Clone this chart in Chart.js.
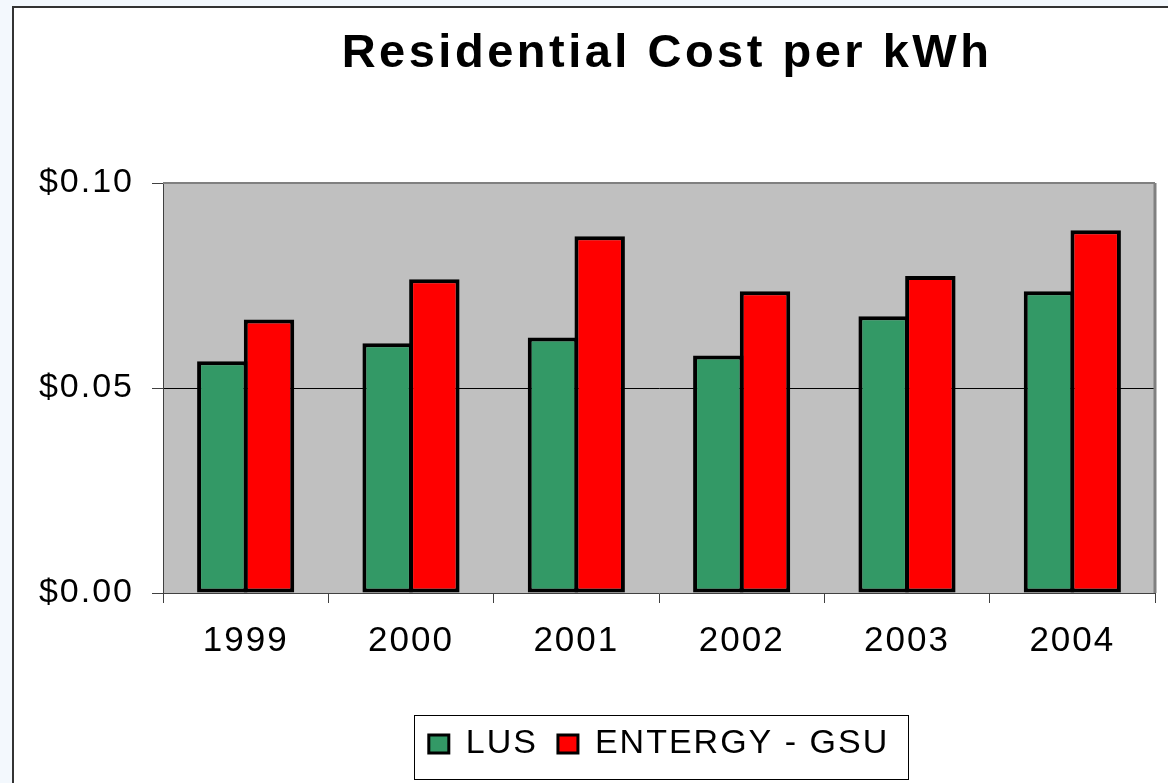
<!DOCTYPE html>
<html>
<head>
<meta charset="utf-8">
<script src="https://cdn.jsdelivr.net/npm/chart.js@4.4.1/dist/chart.umd.min.js"></script>
<style>
  html, body { margin: 0; padding: 0; background: #f3f8fd; overflow: hidden; }
  #wrap { position: absolute; left: 0; top: 0; width: 1168px; height: 783px; overflow: hidden; }
</style>
</head>
<body>
<div id="wrap"><canvas id="chart" width="1330" height="783"></canvas></div>
<script>
const years = ["1999", "2000", "2001", "2002", "2003", "2004"];
const lusCost = [0.0565, 0.0609, 0.0623, 0.0579, 0.0675, 0.0736];
const entergyCost = [0.0667, 0.0765, 0.0870, 0.0736, 0.0773, 0.0885];
const seriesNames = ["LUS", "ENTERGY - GSU"];
const yTicks = [0, 0.05, 0.10];
const titleText = "Residential Cost per kWh";

const FONT = "'Liberation Sans', Arial, sans-serif";
const SPACING = "2px";

// the original chart is drawn with a slightly stretched font, so widen text a bit
function setSpacing(chart) {
  chart.ctx.letterSpacing = SPACING;
}

// page frame, grey plot area, title and legend box
const framePlugin = {
  id: "frame",
  beforeLayout(chart) { setSpacing(chart); },
  beforeDraw(chart) {
    setSpacing(chart);
    const ctx = chart.ctx;
    const a = chart.chartArea;
    ctx.save();
    ctx.fillStyle = "#f3f8fd";
    ctx.fillRect(0, 0, chart.width, chart.height);
    ctx.fillStyle = "#ffffff";
    ctx.fillRect(12, 6, chart.width, chart.height);
    ctx.strokeStyle = "#333333";
    ctx.lineWidth = 2;
    ctx.strokeRect(13, 7, chart.width + 10, chart.height + 10);
    ctx.fillStyle = "#c0c0c0";
    ctx.fillRect(a.left, a.top, a.right - a.left, a.bottom - a.top);

    ctx.fillStyle = "#000000";
    ctx.font = "bold 47px " + FONT;
    ctx.letterSpacing = "3.5px";
    ctx.textAlign = "center";
    ctx.textBaseline = "alphabetic";
    ctx.fillText(titleText, (a.left + a.right) / 2 + 8, 67);
    ctx.restore();
  },
  afterDatasetsDraw(chart) {
    const ctx = chart.ctx;
    const a = chart.chartArea;
    ctx.save();
    ctx.strokeStyle = "#808080";
    ctx.lineWidth = 2;
    ctx.beginPath();
    ctx.moveTo(a.left, a.top);
    ctx.lineTo(a.right, a.top);
    ctx.stroke();
    ctx.lineWidth = 3;
    ctx.beginPath();
    ctx.moveTo(a.right, a.top);
    ctx.lineTo(a.right, a.bottom);
    ctx.stroke();
    ctx.restore();
  },
  afterDraw(chart) {
    const boxes = chart.legend.legendHitBoxes;
    if (!boxes || !boxes.length) return;
    const ctx = chart.ctx;
    let l = Infinity, r = -Infinity, t = Infinity, b = -Infinity;
    boxes.forEach(h => {
      l = Math.min(l, h.left); r = Math.max(r, h.left + h.width);
      t = Math.min(t, h.top); b = Math.max(b, h.top + h.height);
    });
    ctx.save();
    ctx.strokeStyle = "#000000";
    ctx.lineWidth = 1;
    ctx.strokeRect(Math.round(l - 15) + 0.5, Math.round(t - 12) + 0.5, Math.round(r - l + 34), Math.round(b - t + 30));
    ctx.restore();
  }
};

new Chart(document.getElementById("chart"), {
  type: "bar",
  data: {
    labels: years,
    datasets: [
      {
        label: seriesNames[0],
        data: lusCost,
        backgroundColor: "#339966",
        borderColor: "#000000",
        borderWidth: 4,
        borderSkipped: false
      },
      {
        label: seriesNames[1],
        data: entergyCost,
        backgroundColor: "#ff0000",
        borderColor: "#000000",
        borderWidth: 4,
        borderSkipped: false
      }
    ]
  },
  options: {
    responsive: false,
    animation: false,
    layout: { padding: { left: 0, right: 175, top: 183, bottom: 12 } },
    datasets: {
      // bars slightly wider than their slot so neighbours share one border
      bar: { categoryPercentage: 0.565, barPercentage: 1.08 }
    },
    plugins: {
      title: { display: false },
      legend: {
        position: "bottom",
        fullSize: false,
        labels: {
          color: "#000000",
          font: { family: FONT, size: 34 },
          boxWidth: 20,
          boxHeight: 18,
          padding: 20,
          generateLabels(chart) {
            return chart.data.datasets.map((ds, i) => ({
              text: ds.label,
              fillStyle: ds.backgroundColor,
              strokeStyle: "#000000",
              lineWidth: 3,
              datasetIndex: i
            }));
          }
        }
      },
      tooltip: { enabled: false }
    },
    scales: {
      x: {
        afterFit(scale) { scale.height = 114; },
        grid: {
          offset: true,
          drawOnChartArea: false,
          drawTicks: true,
          tickLength: 10,
          color: "#404040"
        },
        border: { color: "#404040", width: 1 },
        ticks: {
          color: "#000000",
          font: { family: FONT, size: 35 },
          padding: 17
        }
      },
      y: {
        min: 0,
        max: 0.1,
        afterFit(scale) { scale.width = 163; },
        afterBuildTicks(scale) { scale.ticks = yTicks.map(v => ({ value: v })); },
        grid: {
          drawTicks: true,
          tickLength: 11,
          color: ctx => (ctx.tick && ctx.tick.value === 0.05) ? "#000000" : "rgba(0,0,0,0)",
          tickColor: "#404040"
        },
        border: { color: "#404040", width: 1 },
        ticks: {
          color: "#000000",
          font: { family: FONT, size: 34 },
          padding: 18,
          callback: v => "$" + Number(v).toFixed(2)
        }
      }
    }
  },
  plugins: [framePlugin]
});
</script>
</body>
</html>
